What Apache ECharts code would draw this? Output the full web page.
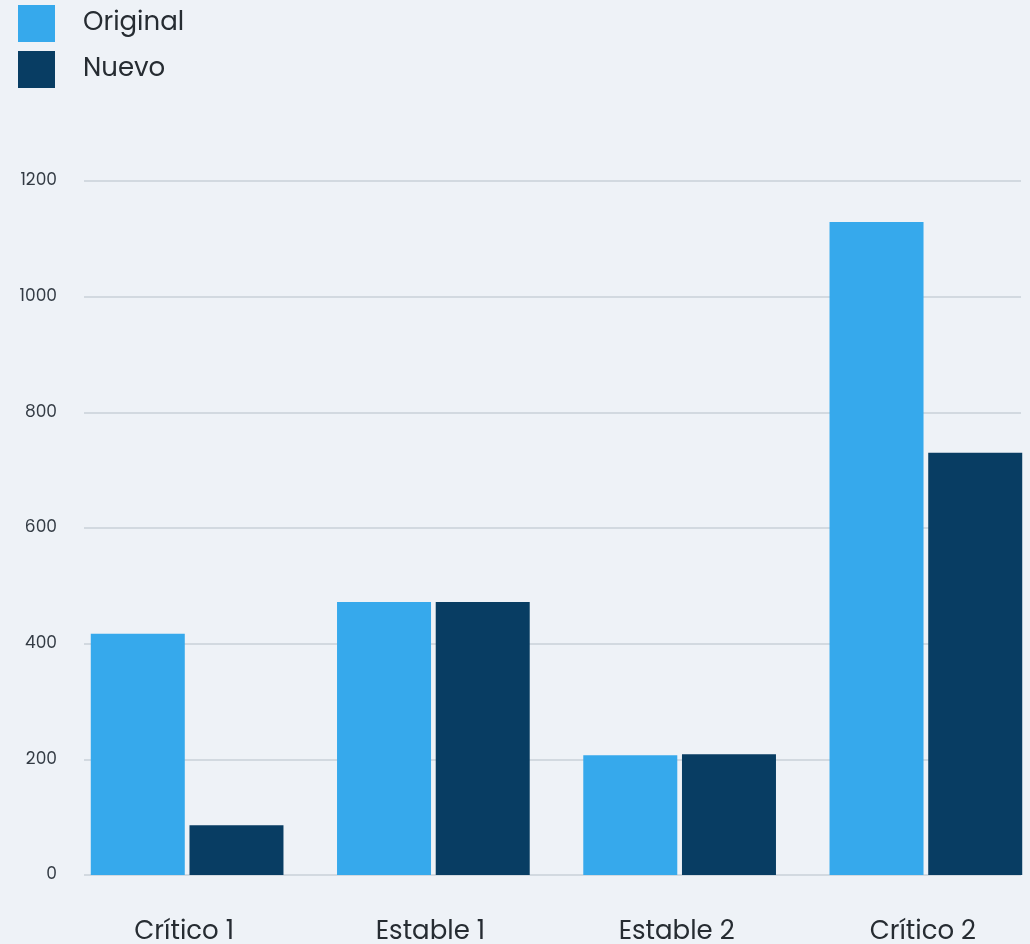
<!DOCTYPE html>
<html>
<head>
<meta charset="utf-8">
<script src="https://cdn.jsdelivr.net/npm/echarts@6/dist/echarts.min.js"></script>
<style>
html,body{margin:0;padding:0;background:#eef2f7;}
#c{width:1030px;height:944px;}
</style>
</head>
<body>
<div id="c"></div>
<script>
const categories = ["Crítico 1", "Estable 1", "Estable 2", "Crítico 2"];
const originalValues = [417, 472, 207, 1129];
const nuevoValues = [86, 472, 209, 730];
const seriesNames = ["Original", "Nuevo"];

const FONT = 'Poppins, "Open Sans", sans-serif';
const chart = echarts.init(document.getElementById('c'));
chart.setOption({
  backgroundColor: '#eef2f7',
  animation: false,
  legend: {
    orient: 'vertical',
    left: 18,
    top: 5,
    padding: 0,
    icon: 'rect',
    itemWidth: 37,
    itemHeight: 37,
    itemGap: 9,
    data: seriesNames,
    textStyle: { fontFamily: FONT, fontSize: 26, color: '#262c32', padding: [10, 0, 0, 23] }
  },
  grid: [
    { left: 84, right: 9, top: 181, bottom: 69, outerBoundsMode: 'none' },
    { left: 64, width: 985, top: 181, bottom: 69, outerBoundsMode: 'none' }
  ],
  xAxis: [
    { gridIndex: 0, type: 'value', show: false, min: 0, max: 1 },
    {
      gridIndex: 1, type: 'category', data: categories,
      axisLine: { show: false }, axisTick: { show: false },
      axisLabel: { fontFamily: FONT, fontSize: 26, color: '#262c32', margin: 44, padding: [0, 6, 0, 0] }
    }
  ],
  yAxis: [
    {
      gridIndex: 0, type: 'value', min: 0, max: 1200, interval: 200,
      axisLine: { show: false }, axisTick: { show: false },
      axisLabel: { fontFamily: FONT, fontSize: 17, color: '#333b44', margin: 27, formatter: v => String(v) },
      splitLine: { lineStyle: { color: '#c9d0d8', width: 1.5 } }
    },
    {
      gridIndex: 1, type: 'value', min: 0, max: 1200, interval: 200,
      show: false, splitLine: { show: false }
    }
  ],
  series: [
    {
      name: seriesNames[0], type: 'bar', xAxisIndex: 1, yAxisIndex: 1,
      data: originalValues, barWidth: 94, barGap: '5%',
      itemStyle: { color: '#36a9ec' }
    },
    {
      name: seriesNames[1], type: 'bar', xAxisIndex: 1, yAxisIndex: 1,
      data: nuevoValues, barWidth: 94, barGap: '5%',
      itemStyle: { color: '#083d63' }
    }
  ]
});
</script>
</body>
</html>
